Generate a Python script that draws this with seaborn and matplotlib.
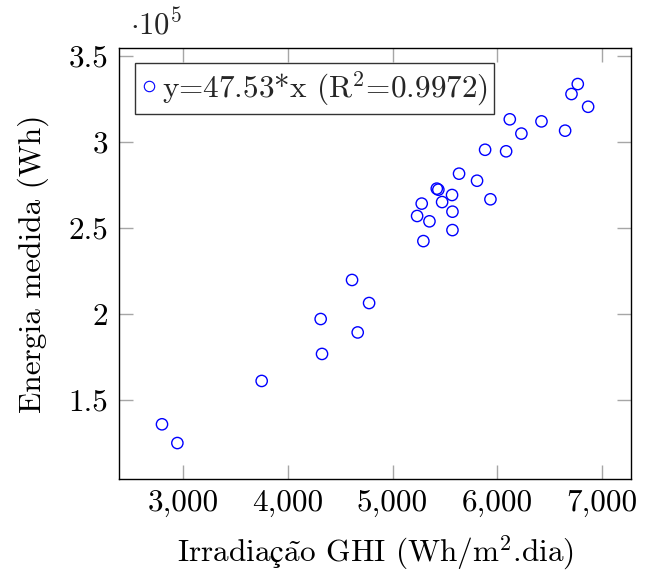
import matplotlib
matplotlib.use("Agg")
import matplotlib.pyplot as plt
import seaborn as sns
import pandas as pd
from matplotlib.lines import Line2D
from matplotlib.ticker import FuncFormatter, FixedLocator

# Data
irradiacao = [2796, 2943, 3749, 4313, 4326, 4613, 4776, 4667, 5295, 5235,
              5279, 5353, 5423, 5438, 5474, 5569, 5573, 5573, 5636, 5808,
              5936, 5885, 6086, 6121, 6232, 6424, 6650, 6711, 6771, 6870]
energia = [135700, 124800, 160900, 196900, 176600, 219600, 206200, 189100, 242200, 256800,
           264000, 253700, 272700, 272100, 264900, 269000, 259300, 248600, 281400, 277300,
           266500, 295300, 294400, 313000, 304700, 311800, 306400, 327700, 333500, 320300]
x_ticks = [3000, 4000, 5000, 6000, 7000]
y_ticks = [150000, 200000, 250000, 300000, 350000]
legend_label = r"y=47.53*x (R$^{2}$=0.9972)"
x_label = r"Irradia$\mathrm{ç\tilde{a}}$o GHI (Wh/m$^{2}$.dia)"
y_label = "Energia medida (Wh)"

df = pd.DataFrame({"x": irradiacao, "y": energia})

sns.set_theme(style="white")
plt.rcParams["font.family"] = ["cmr10", "DejaVu Serif"]
plt.rcParams["mathtext.fontset"] = "cm"
plt.rcParams["axes.formatter.use_mathtext"] = True
plt.rcParams["axes.unicode_minus"] = False

fig = plt.figure(figsize=(6.46, 5.72), dpi=100)
ax = fig.add_axes([0.1847, 0.1626, 0.7921, 0.7530])

sns.scatterplot(data=df, x="x", y="y", ax=ax, marker="o", s=66,
                facecolors="none", edgecolors="blue", linewidth=1.0, legend=False)

ax.set_xlim(2388, 7280)
ax.set_ylim(103900, 354300)
ax.xaxis.set_major_locator(FixedLocator(x_ticks))
ax.yaxis.set_major_locator(FixedLocator(y_ticks))
ax.xaxis.set_major_formatter(FuncFormatter(lambda v, p: f"{v:,.0f}"))
ax.yaxis.set_major_formatter(FuncFormatter(lambda v, p: f"{v/1e5:g}"))

for s in ax.spines.values():
    s.set_color("black")
    s.set_linewidth(1.0)

ax.tick_params(axis="both", which="major", direction="in", length=10, width=1.0,
               color="0.65", labelsize=22.5, top=True, right=True,
               bottom=True, left=True, labelcolor="black")
ax.tick_params(axis="x", pad=7)
ax.tick_params(axis="y", pad=8)

ax.set_xlabel(x_label, fontsize=22.5, labelpad=12, color="black")
ax.set_ylabel(y_label, fontsize=22.5, labelpad=14, color="black")

ax.text(0.021, 1.031, r"$\cdot 10^{5}$", transform=ax.transAxes,
        fontsize=22, va="baseline", ha="left")

handle = Line2D([], [], linestyle="none", marker="o", markersize=7.5,
                markerfacecolor="none", markeredgecolor="blue", markeredgewidth=0.8)
leg = ax.legend([handle], [legend_label], loc="upper left",
                bbox_to_anchor=(0.031, 0.966), fontsize=22.5, frameon=True,
                fancybox=False, borderpad=0.2, handlelength=0.5, handletextpad=0.15,
                borderaxespad=0.0)
leg.get_frame().set_edgecolor("black")
leg.get_frame().set_linewidth(1.0)

fig.savefig("out.png", dpi=100)
